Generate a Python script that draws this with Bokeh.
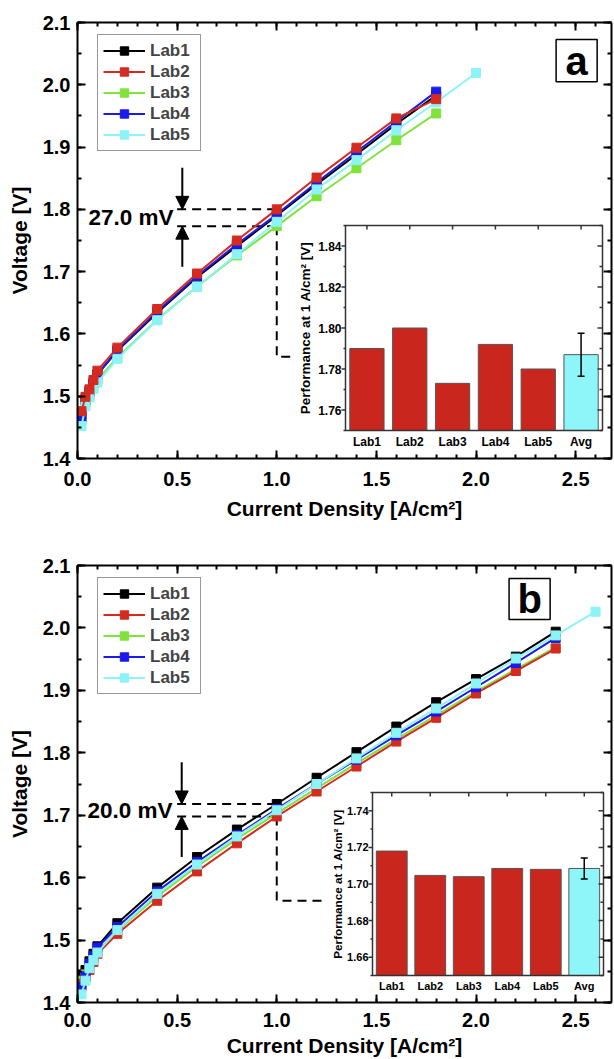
import numpy as np
from bokeh.plotting import figure
from bokeh.layouts import column
from bokeh.models import (Range1d, LinearAxis, SingleIntervalTicker, PrintfTickFormatter,
                          Legend, LegendItem, Arrow, NormalHead, Label, BoxAnnotation)
from bokeh.core.properties import value
from bokeh.embed import file_html
from bokeh.resources import INLINE

# ---------------- data ----------------
labs = ["Lab1", "Lab2", "Lab3", "Lab4", "Lab5"]
bar_cats = ["Lab1", "Lab2", "Lab3", "Lab4", "Lab5", "Avg"]
colors = {"Lab1": "#000000", "Lab2": "#d42a20", "Lab3": "#7fe33c",
          "Lab4": "#1a1aeb", "Lab5": "#8cf3f7"}
bar_red = "#c9261d"
bar_cyan = "#8ef6f8"

# panel a
a_x = [0.02, 0.04, 0.06, 0.08, 0.1, 0.2, 0.4, 0.6, 0.8, 1.0, 1.2, 1.4, 1.6, 1.8]
a_x5 = [0.02, 0.04, 0.06, 0.08, 0.1, 0.2, 0.4, 0.6, 0.8, 1.0, 1.2, 1.4, 1.6, 1.8, 2.0]
a_lab1 = [1.470, 1.495, 1.508, 1.521, 1.535, 1.573, 1.634, 1.691, 1.741, 1.790, 1.840, 1.888, 1.937, 1.983]
a_lab2 = [1.476, 1.499, 1.511, 1.526, 1.541, 1.578, 1.640, 1.697, 1.750, 1.800, 1.851, 1.899, 1.946, 1.977]
a_lab3 = [1.462, 1.488, 1.501, 1.513, 1.526, 1.562, 1.623, 1.676, 1.726, 1.773, 1.821, 1.866, 1.911, 1.954]
a_lab4 = [1.466, 1.493, 1.507, 1.521, 1.535, 1.574, 1.636, 1.693, 1.744, 1.792, 1.843, 1.892, 1.941, 1.989]
a_lab5 = [1.452, 1.484, 1.498, 1.512, 1.522, 1.560, 1.622, 1.676, 1.728, 1.780, 1.832, 1.879, 1.927, 1.972, 2.019]
a_bars = [1.790, 1.800, 1.773, 1.792, 1.780, 1.787]
a_err = 0.0105
a_inset_ticks = [1.76, 1.78, 1.80, 1.82, 1.84]

# panel b
b_x = [0.02, 0.04, 0.06, 0.08, 0.1, 0.2, 0.4, 0.6, 0.8, 1.0, 1.2, 1.4, 1.6, 1.8, 2.0, 2.2, 2.4]
b_x5 = [0.02, 0.04, 0.06, 0.08, 0.1, 0.2, 0.4, 0.6, 0.8, 1.0, 1.2, 1.4, 1.6, 1.8, 2.0, 2.2, 2.4, 2.6]
b_lab1 = [1.445, 1.452, 1.466, 1.478, 1.490, 1.527, 1.584, 1.633, 1.677, 1.718, 1.760, 1.801, 1.842, 1.881, 1.918, 1.954, 1.994]
b_lab2 = [1.430, 1.440, 1.452, 1.465, 1.478, 1.510, 1.563, 1.610, 1.655, 1.698, 1.738, 1.778, 1.818, 1.856, 1.895, 1.931, 1.967]
b_lab3 = [1.435, 1.445, 1.458, 1.470, 1.482, 1.515, 1.570, 1.618, 1.662, 1.703, 1.743, 1.783, 1.822, 1.860, 1.898, 1.934, 1.969]
b_lab4 = [1.425, 1.442, 1.462, 1.474, 1.488, 1.521, 1.578, 1.625, 1.668, 1.710, 1.750, 1.789, 1.828, 1.866, 1.905, 1.944, 1.984]
b_lab5 = [1.413, 1.435, 1.455, 1.468, 1.480, 1.516, 1.574, 1.621, 1.666, 1.708, 1.750, 1.791, 1.832, 1.871, 1.911, 1.951, 1.988, 2.026]
b_bars = [1.718, 1.7047, 1.704, 1.7085, 1.708, 1.7085]
b_err = 0.0057
b_inset_ticks = [1.66, 1.68, 1.70, 1.72, 1.74]

J_REF = 1.0
FONT = "Liberation Sans"
FIG_W = 614
FRAME_W = 534


def style_axis(ax, labels=True):
    ax.axis_line_width = 2
    ax.axis_line_color = "black"
    ax.major_tick_line_width = 2
    ax.minor_tick_line_width = 2
    ax.major_tick_line_color = "black"
    ax.minor_tick_line_color = "black"
    ax.major_tick_in = 8
    ax.major_tick_out = 0
    ax.minor_tick_in = 4
    ax.minor_tick_out = 0
    ax.major_label_text_font = FONT
    ax.major_label_text_font_style = "bold"
    ax.major_label_text_font_size = "20px"
    ax.major_label_text_color = "black"
    ax.axis_label_text_font = FONT
    ax.axis_label_text_font_style = "bold"
    ax.axis_label_text_font_size = "21px"
    ax.axis_label_text_color = "black"
    if not labels:
        ax.major_label_text_font_size = "1px"
        ax.major_label_text_color = None
        ax.major_label_standoff = 0


def panel(xs, ys, order, bars, err, iticks, ilo, ihi, ibox, tag, tagbox,
          conn_y, conn_end, arrow_x, text_x, fig_h, btop, fh, fs):
    p = figure(width=FIG_W, height=fig_h, x_range=Range1d(0, 2.68), y_range=Range1d(1.4, 2.1),
               output_backend="svg", toolbar_location=None,
               x_axis_location=None, y_axis_location=None,
               min_border_left=FIG_W - FRAME_W - 3, min_border_right=3, min_border_top=btop,
               min_border_bottom=fig_h - btop - fh)
    p.xgrid.visible = False
    p.ygrid.visible = False
    p.outline_line_color = None
    p.background_fill_color = "white"
    p.border_fill_color = "white"

    xt = SingleIntervalTicker(interval=0.5, num_minor_ticks=5)
    yt = SingleIntervalTicker(interval=0.1, num_minor_ticks=2)
    bottom = LinearAxis(ticker=xt, formatter=PrintfTickFormatter(format="%.1f"),
                        axis_label="Current Density [A/cm²]")
    left = LinearAxis(ticker=yt, formatter=PrintfTickFormatter(format="%.1f"),
                      axis_label="Voltage [V]")
    top = LinearAxis(ticker=xt)
    right = LinearAxis(ticker=yt)
    style_axis(bottom)
    style_axis(left)
    style_axis(top, labels=False)
    style_axis(right, labels=False)
    bottom.major_label_standoff = fs["xstand"]
    bottom.axis_label_standoff = fs["xtitle"]
    left.major_label_standoff = 7
    left.axis_label_standoff = 9
    p.add_layout(bottom, "below")
    p.add_layout(left, "left")
    p.add_layout(top, "above")
    p.add_layout(right, "right")

    # --- voltage-difference annotation at the reference current density
    idx = list(xs["Lab1"]).index(J_REF)
    v_at = [ys[l][idx] for l in labs]
    vmax, vmin = max(v_at), min(v_at)
    dash = "9 6"
    p.line(x=[0.50, J_REF], y=[vmax, vmax], line_dash=dash, line_width=2, line_color="black")
    p.line(x=[0.50, J_REF], y=[vmin, vmin], line_dash=dash, line_width=2, line_color="black")
    p.line(x=[J_REF, J_REF, conn_end], y=[vmin, conn_y, conn_y], line_dash=dash,
           line_width=2, line_color="black")
    p.add_layout(Arrow(end=NormalHead(size=13, fill_color="black", line_color="black"),
                       x_start=arrow_x, y_start=vmax + 0.067, x_end=arrow_x, y_end=vmax,
                       line_width=2, line_color="black"))
    p.add_layout(Arrow(end=NormalHead(size=13, fill_color="black", line_color="black"),
                       x_start=arrow_x, y_start=vmin - 0.065, x_end=arrow_x, y_end=vmin,
                       line_width=2, line_color="black"))
    p.add_layout(Label(x=text_x, y=(vmax + vmin) / 2, text=f"{(vmax - vmin) * 1000:.1f} mV",
                       text_align="right", text_baseline="middle", text_font=FONT,
                       text_font_style="bold", text_font_size="22.5px", text_color="black"))

    # --- curves
    rend = {}
    for lab in order:
        c = colors[lab]
        lr = p.line(xs[lab], ys[lab], line_color=c, line_width=2)
        sr = p.scatter(xs[lab], ys[lab], marker="square", size=9, fill_color=c, line_color=c)
        rend[lab] = [lr, sr]
    items = [LegendItem(label=lab, renderers=rend[lab]) for lab in labs]
    leg = Legend(items=items, location=(20, fh - 14 - 115), padding=5, spacing=0,
                 label_height=21, glyph_height=21, glyph_width=42, label_standoff=5,
                 label_width=45,
                 label_text_font=FONT, label_text_font_style="bold", label_text_font_size="17px",
                 border_line_color="#333333", border_line_width=1.5, margin=0,
                 background_fill_color="white", background_fill_alpha=1)
    p.add_layout(leg)

    # --- tag box
    p.add_layout(BoxAnnotation(left=tagbox[0], right=tagbox[1], bottom=tagbox[2], top=tagbox[3],
                               fill_alpha=0, line_color="black", line_alpha=1, line_width=1.5))
    p.add_layout(Label(x=(tagbox[0] + tagbox[1]) / 2, y=(tagbox[2] + tagbox[3]) / 2, text=tag,
                       text_align="center", text_baseline="middle", text_font=FONT,
                       text_font_style="bold", text_font_size="40px", text_color="black"))

    # --- inset bar chart on its own ranges
    L, R, T, B = ibox
    n = len(bar_cats)
    s = (R - L) / n
    p.extra_x_ranges["ix"] = Range1d(-L / s, (FRAME_W - L) / s)
    ppu = (B - T) / (ihi - ilo)
    p.extra_y_ranges["iy"] = Range1d(ilo - (fh - B) / ppu, ihi + T / ppu)
    kw = dict(x_range_name="ix", y_range_name="iy")
    centers = [i + 0.5 for i in range(n)]
    p.quad(left=[0], right=[n], bottom=[ilo], top=[ihi], fill_color="white",
           line_color=None, **kw)
    fills = [bar_red] * (n - 1) + [bar_cyan]
    p.vbar(x=centers, width=0.8, bottom=ilo, top=bars, fill_color=fills,
           line_color="#555555", line_width=1, **kw)
    # error bar on the average
    p.segment(x0=[centers[-1]], y0=[bars[-1] - err], x1=[centers[-1]], y1=[bars[-1] + err],
              line_color="black", line_width=1.5, **kw)
    p.scatter(x=[centers[-1], centers[-1]], y=[bars[-1] - err, bars[-1] + err],
              marker="dash", size=7, line_color="black", line_width=1.5, **kw)
    p.quad(left=[0], right=[n], bottom=[ilo], top=[ihi], fill_color=None,
           line_color="#333333", line_width=1.5, **kw)
    step = iticks[1] - iticks[0]
    minors = [iticks[0] - step / 2] + [t + step / 2 for t in iticks]
    p.ray(x=0, y=iticks, length=4, length_units="screen", angle=np.pi,
          line_color="#333333", line_width=1.5, **kw)
    p.ray(x=0, y=minors, length=2, length_units="screen", angle=np.pi,
          line_color="#333333", line_width=1.5, **kw)
    p.ray(x=n, y=iticks, length=5, length_units="screen", angle=np.pi,
          line_color="#333333", line_width=1.5, **kw)
    p.ray(x=n, y=minors, length=3, length_units="screen", angle=np.pi,
          line_color="#333333", line_width=1.5, **kw)
    p.ray(x=centers, y=ihi, length=4, length_units="screen", angle=-np.pi / 2,
          line_color="#333333", line_width=1.5, **kw)
    p.text(x=0, y=iticks, text=[f"{t:.2f}" for t in iticks], x_offset=-4,
           text_align="right", text_baseline="middle", text_font=value(FONT),
           text_font_style="bold", text_font_size=fs["itick"], text_color="black", **kw)
    p.text(x=centers, y=ilo, text=bar_cats, y_offset=fs["icat_off"],
           text_align="center", text_baseline="middle", text_font=value(FONT),
           text_font_style="bold", text_font_size=fs["itick"], text_color="black", **kw)
    p.text(x=[0], y=[(ilo + ihi) / 2], text=["Performance at 1 A/cm² [V]"],
           x_offset=fs["ylab_off"], angle=np.pi / 2, text_align="center",
           text_baseline="middle", text_font=value(FONT), text_font_style="bold",
           text_font_size=fs["ylab"], text_color="black", **kw)
    return p


xs_a = {"Lab1": a_x, "Lab2": a_x, "Lab3": a_x, "Lab4": a_x, "Lab5": a_x5}
ys_a = {"Lab1": a_lab1, "Lab2": a_lab2, "Lab3": a_lab3, "Lab4": a_lab4, "Lab5": a_lab5}
xs_b = {"Lab1": b_x, "Lab2": b_x, "Lab3": b_x, "Lab4": b_x, "Lab5": b_x5}
ys_b = {"Lab1": b_lab1, "Lab2": b_lab2, "Lab3": b_lab3, "Lab4": b_lab4, "Lab5": b_lab5}

p1 = panel(xs_a, ys_a, ["Lab1", "Lab3", "Lab4", "Lab5", "Lab2"], a_bars, a_err,
           a_inset_ticks, 1.75, 1.85, (268, 525, 203, 408), "a",
           (2.402, 2.608, 2.005, 2.0727), 1.5634, 1.08, 0.526, 0.482,
           530, 22, 436,
           dict(xstand=13, xtitle=8, itick="12px", icat_off=11, ylab="13.5px", ylab_off=-40))
p2 = panel(xs_b, ys_b, ["Lab1", "Lab3", "Lab2", "Lab4", "Lab5"], b_bars, b_err,
           b_inset_ticks, 1.65, 1.75, (295, 526, 227, 410), "b",
           (2.166, 2.372, 2.0136, 2.079), 1.563, 1.24, 0.523, 0.477,
           529, 35, 437,
           dict(xstand=10, xtitle=4, itick="11px", icat_off=10, ylab="11.7px", ylab_off=-35))

layout = column(p1, p2, spacing=0)
open("out.html", "w").write(file_html(layout, INLINE))
